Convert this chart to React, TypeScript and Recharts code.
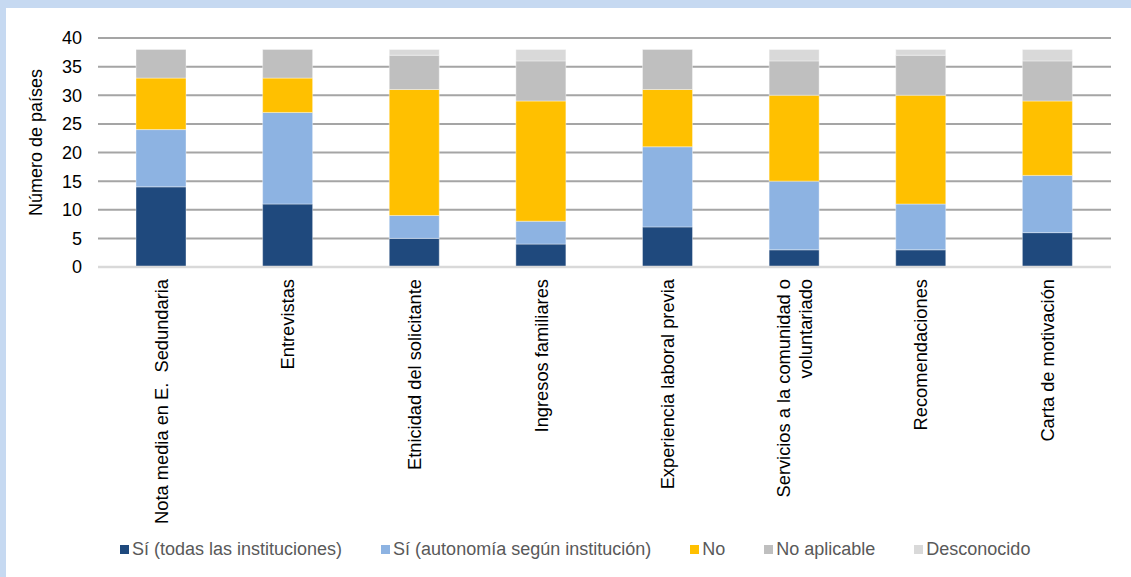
import React from "react";
import { Bar, BarChart, CartesianGrid, Label, XAxis, YAxis } from "recharts";

const categories = [
  "Nota media en E.  Sedundaria",
  "Entrevistas",
  "Etnicidad del solicitante",
  "Ingresos familiares",
  "Experiencia laboral previa",
  "Servicios a la comunidad o voluntariado",
  "Recomendaciones",
  "Carta de motivación",
];

const todas = [14, 11, 5, 4, 7, 3, 3, 6];
const autonomia = [10, 16, 4, 4, 14, 12, 8, 10];
const no = [9, 6, 22, 21, 10, 15, 19, 13];
const noAplicable = [5, 5, 6, 7, 7, 6, 7, 7];
const desconocido = [0, 0, 1, 2, 0, 2, 1, 2];

const yTicks = [0, 5, 10, 15, 20, 25, 30, 35, 40];

const series = [
  { key: "todas", name: "Sí (todas las instituciones)", color: "#1F497D", values: todas },
  { key: "autonomia", name: "Sí (autonomía según institución)", color: "#8DB3E2", values: autonomia },
  { key: "no", name: "No", color: "#FFC000", values: no },
  { key: "noAplicable", name: "No aplicable", color: "#BFBFBF", values: noAplicable },
  { key: "desconocido", name: "Desconocido", color: "#D9D9D9", values: desconocido },
];

const data = categories.map((name, i) => {
  const row: Record<string, string | number> = { name };
  series.forEach((s) => {
    row[s.key] = s.values[i];
  });
  return row;
});

const FONT = "Arial, 'Liberation Sans', sans-serif";

// excel-style wrap: only very long labels get broken in two
function wrapLabel(text: string, max = 30): string[] {
  if (text.length <= max) return [text];
  const cut = text.lastIndexOf(" ", max);
  return [text.slice(0, cut), text.slice(cut + 1)];
}

function CategoryTick(props: any) {
  const { x, y, payload } = props;
  const lines = wrapLabel(String(payload.value));
  return (
    <g transform={`translate(${x},${y + 4}) rotate(-90)`}>
      <text
        textAnchor="end"
        fill="#000"
        fontSize={18.3}
        fontFamily={FONT}
        style={{ whiteSpace: "pre" }}
      >
        {lines.length === 1 ? (
          <tspan x={0} dy="0.35em">
            {lines[0]}
          </tspan>
        ) : (
          lines.map((l, i) => (
            <tspan key={i} x={0} dy={i === 0 ? "-0.26em" : "1.22em"}>
              {l}
            </tspan>
          ))
        )}
      </text>
    </g>
  );
}

function YTitle(props: any) {
  const { viewBox } = props;
  const cx = viewBox.x + 30;
  const cy = viewBox.y + viewBox.height / 2 - 10;
  return (
    <text
      x={cx}
      y={cy}
      transform={`rotate(-90, ${cx}, ${cy})`}
      textAnchor="middle"
      dominantBaseline="central"
      fill="#000"
      fontSize={18}
      fontFamily={FONT}
    >
      Número de países
    </text>
  );
}

export default function App() {
  return (
    <div
      style={{
        position: "fixed",
        left: 0,
        top: 0,
        width: 1131,
        height: 577,
        background: "#C6D9F1",
      }}
    >
      <div
        style={{
          position: "absolute",
          left: 6,
          top: 8,
          width: 1125,
          height: 569,
          background: "#fff",
        }}
      >
        <BarChart
          width={1125}
          height={569}
          data={data}
          margin={{ top: 30, right: 20, left: 0, bottom: 0 }}
        >
          <CartesianGrid stroke="#A5A5A5" strokeWidth={2} vertical={false} />
          <XAxis
            dataKey="name"
            height={310}
            interval={0}
            tickLine={false}
            axisLine={{ stroke: "#D9D9D9", strokeWidth: 2.5 }}
            tick={<CategoryTick />}
          />
          <YAxis
            width={92}
            domain={[0, 40]}
            ticks={yTicks}
            tickLine={false}
            axisLine={false}
            tickMargin={10}
            tick={{ fill: "#000", fontSize: 18, fontFamily: FONT }}
          >
            <Label content={<YTitle />} />
          </YAxis>
          {series.map((s) => (
            <Bar
              key={s.key}
              dataKey={s.key}
              name={s.name}
              stackId="a"
              fill={s.color}
              barSize={50}
              stroke="#ffffff"
              strokeOpacity={0.5}
              strokeWidth={0.75}
              isAnimationActive={false}
            />
          ))}
        </BarChart>
        <div
          style={{
            position: "absolute",
            left: 114,
            top: 531,
            display: "flex",
            gap: 39,
            fontFamily: FONT,
            fontSize: 18,
            color: "#595959",
            whiteSpace: "nowrap",
          }}
        >
          {series.map((s) => (
            <div key={s.key} style={{ display: "flex", alignItems: "center" }}>
              <span
                style={{
                  display: "inline-block",
                  width: 9,
                  height: 9,
                  background: s.color,
                  marginRight: 3,
                }}
              />
              <span>{s.name}</span>
            </div>
          ))}
        </div>
      </div>
    </div>
  );
}
